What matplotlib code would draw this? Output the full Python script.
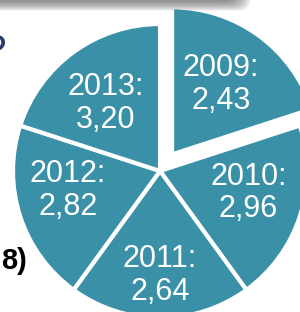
import matplotlib.pyplot as plt
import numpy as np
from matplotlib.patches import FancyBboxPatch

plt.rcParams['font.family'] = ['Liberation Sans', 'DejaVu Sans']

# slice labels and the values printed inside them
years = ["2009", "2010", "2011", "2012", "2013"]
values = ["2,43", "2,96", "2,64", "2,82", "3,20"]
# the slices in the picture are drawn the same size
shares = [1, 1, 1, 1, 1]

teal = "#3a90a6"

fig = plt.figure(figsize=(3.0, 3.12), dpi=100)

# pie axes: centre at (160, 171) px from top-left, radius 147 px
R = 147.0
ax = fig.add_axes([0, 0, 1, 1])
wedges, _ = ax.pie(shares, startangle=90, counterclock=False,
                   colors=[teal] * 5, explode=[0.14, 0, 0, 0, 0],
                   wedgeprops=dict(edgecolor="white", linewidth=3))
ax.set_xlim(-160 / R, 140 / R)
ax.set_ylim(-141 / R, 171 / R)
ax.set_aspect("auto")
ax.axis("off")

# label distance (fraction of radius) and small angle nudge per slice
label_r = [0.58, 0.62, 0.71, 0.64, 0.59]
label_nudge = [1, 4, 0, -6, 3]
for w, yr, val, r, nd in zip(wedges, years, values, label_r, label_nudge):
    mid = np.radians((w.theta1 + w.theta2) / 2 + nd)
    cx, cy = w.center
    ax.text(cx + r * np.cos(mid), cy + r * np.sin(mid), f"{yr}:\n{val}",
            ha="center", va="center", color="white", fontsize=22,
            linespacing=1.12)

# overlay in pixel coordinates for the slide bits around the chart
ov = fig.add_axes([0, 0, 1, 1])
ov.set_xlim(0, 300)
ov.set_ylim(312, 0)
ov.axis("off")

# soft shadow under the title box (box itself sits above the crop)
for k in range(12):
    ov.add_patch(FancyBboxPatch((-40, -40), 276 + k * 1.4, 42 + k * 0.8,
                                boxstyle="round,pad=0,rounding_size=14",
                                fc="#505050", ec="none", alpha=0.07))

ov.text(27, 261, "8)", ha="right", va="center", fontsize=21,
        fontweight="bold", color="black")
ov.text(5, 53, "?", ha="right", va="center", fontsize=30,
        fontstyle="italic", color="#2a3a6a")

fig.savefig("out.png", dpi=100)
